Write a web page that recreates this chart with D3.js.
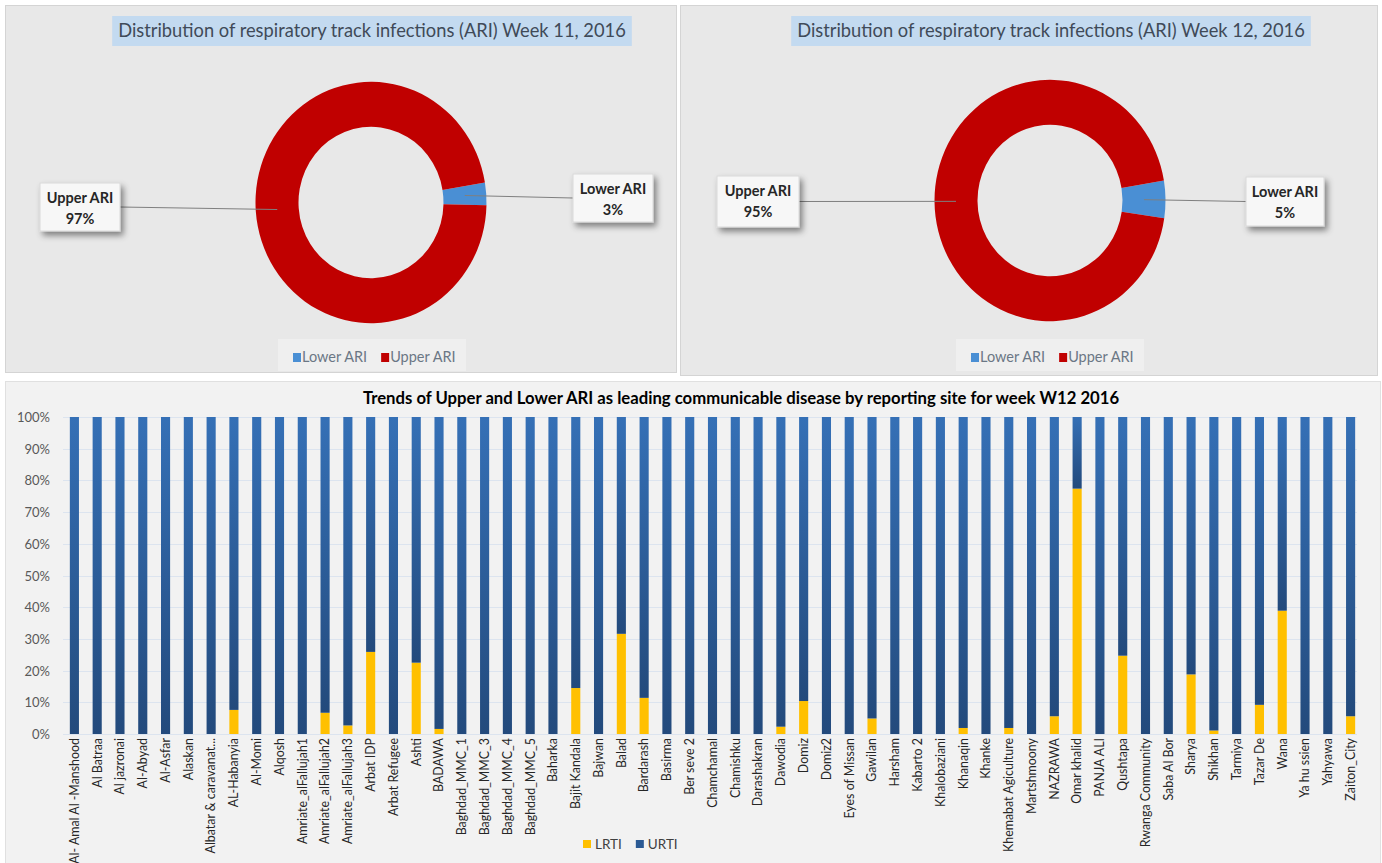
<!DOCTYPE html>
<html lang="en">
	<head>
		<meta charset="utf-8">
		<title>ARI distribution week 11 / 12, 2016</title>
		<style>
		body {
			margin:0;
			background:#fff;
		}
		text {
			font-family: Lato, "Noto Sans", sans-serif;
		}
		.panel-top {
			fill:#e8e8e8;
			stroke:#d4d4d4;
		}
		.panel-bottom {
			fill:#f2f2f2;
			stroke:#e0e0e0;
		}
		.grid line {
			stroke:#dce4ef;
			stroke-width:1px;
		}
		.yaxis text {
			fill:#595959;
			font-size:13px;
		}
		.xaxis text {
			fill:#262626;
			font-size:12.4px;
		}
		.donut-label {
			fill:#262626;
			font-size:14.5px;
			font-weight:bold;
		}
		.legend text {
			fill:#6b7785;
			font-size:14.5px;
		}
		</style>
	</head>
	<body>
		<svg id="chart" width="1382" height="863"></svg>

		<script src="https://d3js.org/d3.v7.min.js"></script>
		<script>

		// donut data (share of ARI cases)
		var ariTypes = ["Lower ARI", "Upper ARI"];
		var week11 = [3, 97];
		var week12 = [5, 95];

		// stacked bars by reporting site, week 12
		var sites = ["Al- Amal Al -Manshood", "Al Batraa", "Al jazronai", "Al-Abyad", "Al-Asfar", "Alaskan",
			"Albatar & caravanat...", "AL-Habanyia", "Al-Momi", "Alqosh", "Amriate_alFallujah1", "Amriate_alFallujah2",
			"Amriate_alFallujah3", "Arbat IDP", "Arbat Refugee", "Ashti", "BADAWA", "Baghdad_MMC_1", "Baghdad_MMC_3",
			"Baghdad_MMC_4", "Baghdad_MMC_5", "Baharka", "Bajit Kandala", "Bajwan", "Balad", "Bardarash", "Basirma",
			"Ber seve 2", "Chamchamal", "Chamishku", "Darashakran", "Dawodia", "Domiz", "Domiz2", "Eyes of Missan",
			"Gawilan", "Harsham", "Kabarto 2", "Khalobaziani", "Khanaqin", "Khanke", "Khemabat Agiculture",
			"Martshmoony", "NAZRAWA", "Omar khalid", "PANJA ALI", "Qushtapa", "Rwanga Community", "Saba Al Bor",
			"Sharya", "Shikhan", "Tarmiya", "Tazar De", "Wana", "Ya hu ssien", "Yahyawa", "Zaiton_City"];
		var lrti = [0, 0, 0, 0, 0, 0, 0, 7.6, 0, 0, 0, 6.7, 2.7, 25.9, 0, 22.5, 1.6, 0, 0, 0, 0, 0, 14.5, 0, 31.6,
			11.4, 0, 0, 0, 0, 0, 2.3, 10.4, 0, 0, 4.9, 0, 0, 0, 1.9, 0, 1.9, 0, 5.6, 77.4, 0, 24.7, 0, 0, 18.8, 1.1,
			0, 9.2, 38.9, 0, 0, 5.6];
		var urti = lrti.map(function(v) { return 100 - v; });
		var yTicks = [0, 10, 20, 30, 40, 50, 60, 70, 80, 90, 100];

		var svg = d3.select("#chart");
		var defs = svg.append("defs");

		var shadow = defs.append("filter").attr("id", "shadow")
			.attr("x", "-30%").attr("y", "-30%").attr("width", "170%").attr("height", "170%");
		shadow.append("feDropShadow")
			.attr("dx", 3).attr("dy", 4).attr("stdDeviation", 3)
			.attr("flood-color", "#000").attr("flood-opacity", 0.45);

		var grad = defs.append("linearGradient").attr("id", "urtiGrad")
			.attr("x1", 0).attr("y1", 0).attr("x2", 0).attr("y2", 1);
		grad.append("stop").attr("offset", "0%").attr("stop-color", "#3570b6");
		grad.append("stop").attr("offset", "100%").attr("stop-color", "#234a7c");

		// panels
		svg.append("rect").attr("class", "panel-top")
			.attr("x", 5.5).attr("y", 5.5).attr("width", 671).attr("height", 367);
		svg.append("rect").attr("class", "panel-top")
			.attr("x", 680.5).attr("y", 5.5).attr("width", 697).attr("height", 370);
		svg.append("rect").attr("class", "panel-bottom")
			.attr("x", 5.5).attr("y", 381.5).attr("width", 1375).attr("height", 485);

		var donutColor = d3.scaleOrdinal().domain(ariTypes).range(["#4a8fd4", "#c00000"]);
		var squash = 1.045; // the source picture is a little stretched vertically

		function drawDonut(opt) {
			var g = svg.append("g");

			// title with its light blue band
			var title = g.append("text")
				.attr("x", opt.titleX).attr("y", 37)
				.attr("text-anchor", "middle")
				.attr("font-size", 18.3)
				.attr("fill", "#404a58")
				.text(opt.title);
			var bb = title.node().getBBox();
			g.insert("rect", "text")
				.attr("x", bb.x - 6).attr("y", 16)
				.attr("width", bb.width + 12).attr("height", 30)
				.attr("fill", "#c3daf0");

			var pie = d3.pie().sort(null)
				.startAngle(opt.start * Math.PI / 180)
				.endAngle(opt.start * Math.PI / 180 + 2 * Math.PI);
			var arcs = pie(opt.values);
			var arc = d3.arc().innerRadius(72.5).outerRadius(115.5);

			var cg = g.append("g")
				.attr("transform", "translate(" + opt.cx + "," + opt.cy + ") scale(1," + squash + ")");
			cg.selectAll("path")
				.data(arcs)
				.enter().append("path")
				.attr("d", arc)
				.attr("fill", function(d, i) { return donutColor(ariTypes[i]); });

			// callouts
			arcs.forEach(function(d, i) {
				var c = arc.centroid(d);
				var box = opt.boxes[i];
				var edgeX = box.x < opt.cx ? box.x + box.w : box.x;
				g.append("line")
					.attr("x1", opt.cx + c[0]).attr("y1", opt.cy + c[1] * squash)
					.attr("x2", edgeX).attr("y2", box.y + box.h / 2)
					.attr("stroke", "#7f7f7f").attr("stroke-width", 1);
				g.append("rect")
					.attr("x", box.x).attr("y", box.y)
					.attr("width", box.w).attr("height", box.h)
					.attr("fill", "#f7f7f7")
					.attr("stroke", "#d9d9d9")
					.attr("filter", "url(#shadow)");
				var t = g.append("text").attr("class", "donut-label").attr("text-anchor", "middle");
				t.append("tspan").attr("x", box.x + box.w / 2).attr("y", box.y + 20).text(ariTypes[i]);
				t.append("tspan").attr("x", box.x + box.w / 2).attr("y", box.y + 41).text(opt.values[i] + "%");
			});

			// legend
			var lg = g.append("g").attr("class", "legend");
			lg.append("rect")
				.attr("x", opt.legendX - 15).attr("y", 339)
				.attr("width", 188).attr("height", 32)
				.attr("fill", "#efefef");
			var lx = opt.legendX;
			ariTypes.forEach(function(name) {
				lg.append("rect").attr("x", lx).attr("y", 353).attr("width", 8).attr("height", 9)
					.attr("fill", donutColor(name));
				var t = lg.append("text").attr("x", lx + 9).attr("y", 362).text(name);
				lx += 9 + t.node().getComputedTextLength() + 14;
			});
		}

		drawDonut({
			title: "Distribution of respiratory track infections (ARI) Week 11, 2016",
			titleX: 372, cx: 371, cy: 202.5, start: 80.5, values: week11, legendX: 293,
			boxes: [{x: 573, y: 174, w: 80, h: 48}, {x: 40, y: 183, w: 80, h: 48}]
		});
		drawDonut({
			title: "Distribution of respiratory track infections (ARI) Week 12, 2016",
			titleX: 1051, cx: 1050, cy: 200.5, start: 80.5, values: week12, legendX: 971,
			boxes: [{x: 1246, y: 177, w: 78, h: 49}, {x: 717, y: 176, w: 82, h: 51}]
		});

		// ---- stacked bar chart ----
		var x = d3.scaleBand().domain(sites).range([63, 1362]).paddingInner(0.6).paddingOuter(0.3);
		var y = d3.scaleLinear().domain([0, 100]).range([734, 417]);

		svg.append("text")
			.attr("x", 741).attr("y", 404)
			.attr("text-anchor", "middle")
			.attr("font-size", 16.7).attr("font-weight", "bold")
			.attr("fill", "#000")
			.text("Trends of Upper and Lower ARI as leading communicable disease by reporting site for week W12 2016");

		svg.append("g").attr("class", "grid")
			.selectAll("line")
			.data(yTicks)
			.enter().append("line")
			.attr("x1", 63).attr("x2", 1357)
			.attr("y1", function(d) { return Math.round(y(d)) + 0.5; })
			.attr("y2", function(d) { return Math.round(y(d)) + 0.5; });

		var yAxis = svg.append("g").attr("class", "yaxis")
			.attr("transform", "translate(54,0)")
			.call(d3.axisLeft(y).tickValues(yTicks).tickSize(0).tickPadding(4)
				.tickFormat(function(d) { return d + "%"; }));
		yAxis.select(".domain").remove();
		yAxis.selectAll("text").attr("dy", "0.35em");

		var rows = sites.map(function(s, i) { return {site: s, LRTI: lrti[i], URTI: urti[i]}; });
		var stack = d3.stack().keys(["LRTI", "URTI"])(rows);
		var barColor = {LRTI: "#ffc000", URTI: "url(#urtiGrad)"};

		svg.append("g").selectAll("g")
			.data(stack)
			.enter().append("g")
			.attr("fill", function(d) { return barColor[d.key]; })
			.selectAll("rect")
			.data(function(d) { return d; })
			.enter().append("rect")
			.attr("x", function(d) { return x(d.data.site); })
			.attr("width", x.bandwidth())
			.attr("y", function(d) { return y(d[1]); })
			.attr("height", function(d) { return y(d[0]) - y(d[1]); });

		var xAxis = svg.append("g").attr("class", "xaxis")
			.attr("transform", "translate(0,734)")
			.call(d3.axisBottom(x).tickSize(0).tickPadding(0));
		xAxis.select(".domain").remove();
		xAxis.selectAll("text")
			.attr("transform", "rotate(-90)")
			.attr("x", -4).attr("y", 0).attr("dy", "0.35em")
			.style("text-anchor", "end");

		// bar legend
		var blg = svg.append("g").attr("class", "legend");
		var bx = 583;
		[["LRTI", "#ffc000"], ["URTI", "#2b5a94"]].forEach(function(it) {
			blg.append("rect").attr("x", bx).attr("y", 840).attr("width", 8).attr("height", 8).attr("fill", it[1]);
			var t = blg.append("text").attr("x", bx + 12).attr("y", 849)
				.style("fill", "#404040").style("font-size", "13.5px").text(it[0]);
			bx += 12 + t.node().getComputedTextLength() + 14;
		});

		</script>
	</body>
</html>
